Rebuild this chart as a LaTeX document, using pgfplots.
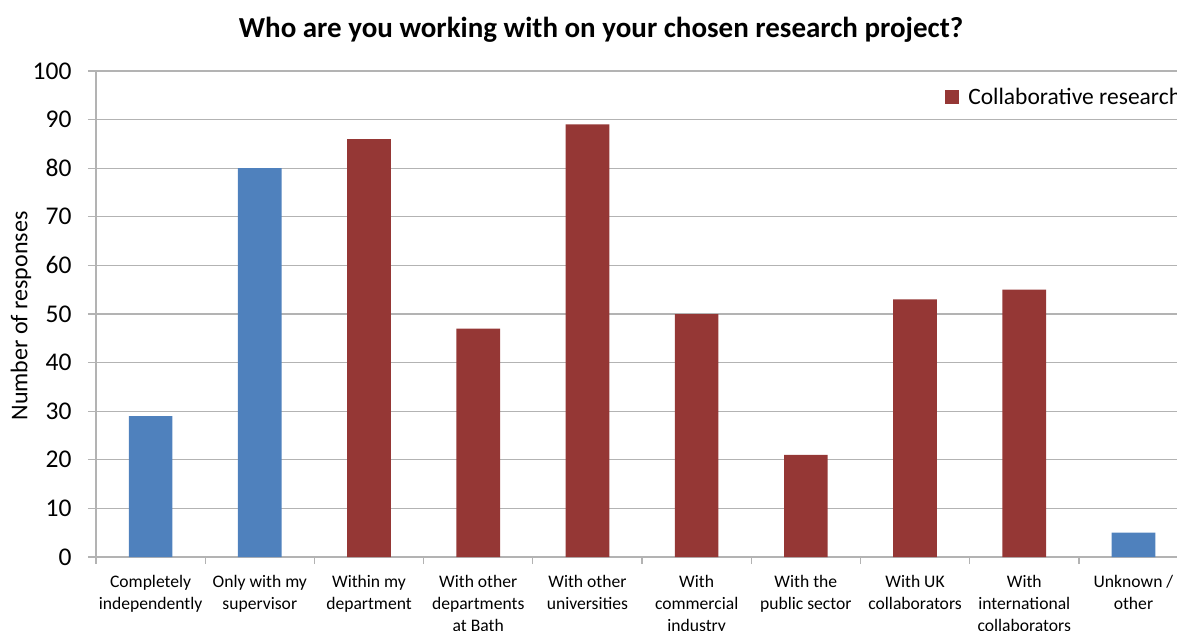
\documentclass[border=0pt]{standalone}
\usepackage{fontspec}
\setmainfont{Carlito}
\usepackage{pgfplots}
\pgfplotsset{compat=1.18}
\definecolor{barblue}{HTML}{4F81BD}
\definecolor{barred}{HTML}{953735}
\definecolor{gridgray}{HTML}{B3B3B3}
\begin{document}
\begin{tikzpicture}
\path[use as bounding box] (0,0) rectangle (1177pt,630pt);
\clip (0,0) rectangle (1177pt,630pt);
\begin{axis}[
  at={(96pt,73pt)}, anchor=south west,
  scale only axis, width=1092pt, height=486pt,
  xmin=-0.5, xmax=9.5, ymin=0, ymax=100,
  axis lines=left,
  axis line style={draw=gridgray, line width=1.3pt, -},
  ytick distance=10,
  ymajorgrids, grid style={draw=gridgray, line width=1.3pt},
  tick align=outside,
  major tick length=8pt,
  minor tick length=7pt,
  ytick style={draw=gridgray, line width=1.3pt},
  xtick={0,...,9},
  major x tick style={draw=none},
  minor xtick={-0.5,0.5,...,9.5},
  minor x tick style={draw=gridgray, line width=1.3pt},
  xticklabels={{Completely\\independently},{Only with my\\supervisor},{Within my\\department},{With other\\departments\\at Bath},{With other\\universities},{With\\commercial\\industry},{With the\\public sector},{With UK\\collaborators},{With\\international\\collaborators},{Unknown /\\other}},
  x tick label style={font=\fontsize{17.6}{22}\selectfont, align=center, anchor=north, yshift=-7pt},
  /pgf/number format/assume math mode=true,
  y tick label style={font=\fontsize{25.5}{28}\selectfont, anchor=east, xshift=-13pt},
  ylabel={Number of responses},
  ylabel style={at={(axis description cs:-0.0687,0.496)}, anchor=center, font=\fontsize{24}{27}\selectfont},
  title={Who are you working with on your chosen research project?},
  title style={at={(axis description cs:0.4625,1.072)}, anchor=center, font=\fontsize{29}{33}\selectfont\bfseries},
  legend style={at={(axis description cs:0.7775,0.9465)}, anchor=west, draw=none, fill=none, font=\fontsize{23.5}{26}\selectfont, inner sep=0pt, /tikz/every even column/.append style={column sep=0pt}},
  legend cell align=left,
  legend image code/.code={\fill[#1] (0pt,-7pt) rectangle (14pt,7pt);},
  clip=false,
]
\addplot[ybar, bar width=0.4, bar shift=0pt, fill=barblue, draw=none, forget plot] coordinates {(0,29) (1,80) (9,5)};
\addplot[ybar, bar width=0.4, bar shift=0pt, fill=barred, draw=none] coordinates {(2,86) (3,47) (4,89) (5,50) (6,21) (7,53) (8,55)};
\addlegendentry{\hspace{7pt}Collaborative research}
\end{axis}
\end{tikzpicture}
\end{document}
